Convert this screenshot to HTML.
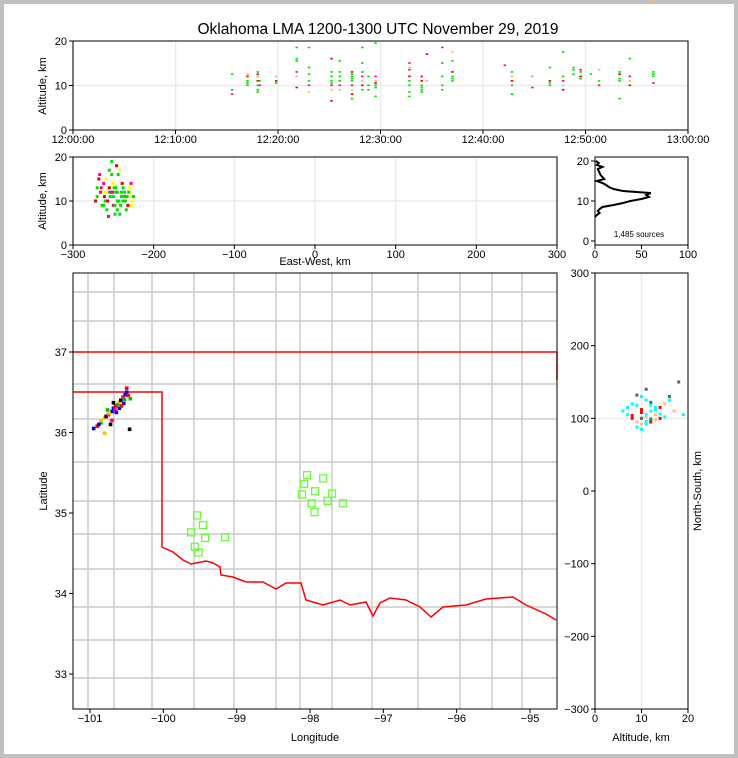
<!DOCTYPE html>
<html><head><meta charset="utf-8">
<style>
html,body{margin:0;padding:0;background:#c0c0c0;}
#wrap{position:absolute;left:4px;top:4px;width:730px;height:750px;background:#fff;}
svg{position:absolute;left:0;top:0;font-family:"Liberation Sans",sans-serif;}
</style></head>
<body>
<div id="wrap"></div>
<svg id="fig" width="738" height="758"></svg>
<script>
// ---- data ----
const timeTicks = ["12:00:00","12:10:00","12:20:00","12:30:00","12:40:00","12:50:00","13:00:00"];
const lmaTimeMin = [15.5,15.5,15.5,17,17,17,17,17,18,18,18,18,18,18,18,18.2,18.2,19.8,19.8,19.8,21.8,21.8,21.8,21.8,21.8,21.8,23,23,23,23,23,23,25.2,25.2,25.2,25.2,25.2,25.2,25.2,25.2,26,26,26,26,26,26,27.2,27.2,27.2,27.2,27.2,27.2,27.2,27.2,27.2,28.2,28.2,28.2,28.2,28.2,28.2,28.2,28.8,28.8,28.8,29.5,29.5,29.5,29.5,29.5,29.5,29.5,32.8,32.8,32.8,32.8,32.8,32.8,32.8,32.8,34,34,34,34,34,34,34,34.5,34.5,36,36,36,36,36,37,37,37,37,37,37,42.1,42.8,42.8,42.8,42.8,42.8,44.8,44.8,44.8,46.5,46.5,46.5,46.5,47.8,47.8,47.8,47.8,47.8,48.8,48.8,48.8,49.5,49.5,49.5,49.5,49.5,50.5,51.3,51.3,51.3,53.3,53.3,53.3,53.3,53.3,54.3,54.3,54.3,54.3,56.6,56.6,56.6,56.6,56.6];
const lmaAlt = [12.5,9,8,12.5,12,11,10.5,10,13,12.5,12,11,10,9,8.5,11,10,12,11,10.5,18.5,16,15.5,13,12,9.5,18.5,14,12.5,11,10,8.5,16,13,12,11,10.5,10,9,6.5,15.5,13,12,11,10,9,13,12.5,12,11.5,11,10,9,8,7,18.5,15,13,12,11,10,9,12,10,9,12,11,10.5,10,9.5,7.5,19.5,15,14,12,11,10,8.5,7.5,13.5,12,11,10,9.5,9,8.5,12,11,17,15,12,10,9,18.5,17.5,13,12,11.5,11,15.5,14.5,12,11,10,8,13,12,9.5,12,11,10.5,10,14,12,11,10,9,17.5,13.5,12.5,14,13.5,13,12,11.5,13,12.5,11,10,13.5,12.5,11.5,11,7,13,12,11,10,16,13,12.5,12,10.5];
const lmaColors = ["#00e000","#00e000","#ff0080","#ffb070","#e00000","#00e000","#00e000"];
const ewTicks = [-300,-200,-100,0,100,200,300];
const ewVals = [-270,-265,-260,-255,-250,-245,-240,-235,-230,-225,-268,-262,-258,-252,-248,-242,-238,-232,-228,-255,-250,-245,-260,-240,-235,-265,-258,-248,-238,-230,-252,-246,-256,-242,-234,-262,-250,-244,-272,-266,-254,-247,-236,-229,-264,-257,-251,-243,-237,-231,-226,-270,-261,-253,-249,-241,-233,-259,-245,-239,-267,-255,-247,-236,-228];
const ewAlt = [11,12,10,13,9,12,11,10,12,11,15,14,8,16,7,17,13,9,14,12,11,10,12,12,11,13,10,9,10,13,19,18,6.5,7,8,9,14,16,10,12,11,13,12,11,9,10,12,10,11,12,10,13,11,12,13,9,11,15,8,14,16,17,12,10,9];
const histAltBins = [6,6.5,7,7.5,8,8.5,9,9.5,10,10.5,11,11.5,12,12.5,13,13.5,14,14.5,15,15.5,16,16.5,17,17.5,18,18.5,19,19.5,20];
const histCounts = [0,2,5,3,5,8,20,30,38,50,58,55,60,30,20,15,12,8,2,10,8,6,5,4,3,8,2,4,1];
const lonTicks = [-101,-100,-99,-98,-97,-96,-95];
const latTicks = [33,34,35,36,37];
const srcLon = [-100.95,-100.9,-100.85,-100.8,-100.78,-100.75,-100.7,-100.68,-100.65,-100.62,-100.6,-100.58,-100.55,-100.52,-100.5,-100.48,-100.45,-100.85,-100.72,-100.66,-100.6,-100.54,-100.5,-100.76,-100.8,-100.46,-100.7,-100.88,-100.64,-100.57,-100.53,-100.74,-100.68];
const srcLat = [36.05,36.08,36.12,36.18,36.2,36.22,36.26,36.3,36.33,36.35,36.38,36.4,36.44,36.47,36.5,36.46,36.42,36.15,36.1,36.28,36.3,36.36,36.55,36.28,35.99,36.04,36.15,36.1,36.25,36.33,36.41,36.24,36.37];
const srcColors = ["#0000ff","#ff0000","#00c000","#ffc000","#000000","#ff0080","#0000ff"];
const staLon = [-99.54,-99.46,-99.62,-99.43,-99.57,-99.52,-99.16,-98.04,-97.82,-98.08,-97.93,-97.7,-98.11,-97.98,-97.76,-97.55,-97.94];
const staLat = [34.97,34.85,34.76,34.69,34.58,34.51,34.7,35.47,35.43,35.36,35.27,35.24,35.23,35.12,35.15,35.12,35.01];
const nsAlt = [6,7,8,9,10,11,12,13,14,15,16,9,10,11,12,13,11,12,10,8,14,17,18,19,12,11,10,13,9,15,7,16,10,11,12,13,14,9,8,10,12,11];
const nsVals = [110,105,100,95,100,105,110,115,100,120,130,88,130,125,95,105,140,100,85,120,115,110,150,105,118,92,112,98,132,102,115,125,108,102,98,112,106,118,104,92,122,96];
const nsTicks = [-300,-200,-100,0,100,200,300];
// ---- helpers ----
const svg = document.getElementById('fig');
const NS = 'http://www.w3.org/2000/svg';
function el(tag, attrs, parent){const e=document.createElementNS(NS,tag);for(const k in attrs)e.setAttribute(k,attrs[k]);(parent||svg).appendChild(e);return e;}
function lin(d0,d1,r0,r1){return v=>r0+(v-d0)/(d1-d0)*(r1-r0);}
function txt(x,y,s,anchor,size,parent,extra){const t=el('text',Object.assign({x:x,y:y,'text-anchor':anchor||'middle','font-size':size||11,fill:'#000'},extra||{}),parent);t.textContent=s;return t;}

const title = txt(378,34,"Oklahoma LMA 1200-1300 UTC November 29, 2019","middle",15.5);



// ---- top time panel ----
const tx = lin(0,60,73,688), ty = lin(0,20,130,41);
const gTop = el('g',{});


timeTicks.forEach((s,i)=>{const x=tx(i*10);el('line',{x1:x,x2:x,y1:41,y2:130,stroke:'#ebebeb','stroke-width':1.5},gTop);el('line',{x1:x,x2:x,y1:130,y2:134,stroke:'#000'},gTop);const t=txt(x,143,s,'middle',11,gTop);});
el('line',{x1:73,x2:688,y1:ty(10),y2:ty(10),stroke:'#ebebeb','stroke-width':1.5},gTop);
[0,10,20].forEach(v=>{el('line',{x1:69,x2:73,y1:ty(v),y2:ty(v),stroke:'#000'},gTop);txt(67,ty(v)+4,String(v),'end',11,gTop);});
lmaTimeMin.forEach((t,i)=>{const r=el('rect',{x:tx(t)-1,y:ty(lmaAlt[i])-1,width:2.5,height:1.6,fill:lmaColors[i%lmaColors.length]},gTop);});
el('rect',{x:73,y:41,width:615,height:89,fill:'none',stroke:'#000'},gTop);
const yl1=txt(0,0,"Altitude, km","middle",11,gTop,{transform:'translate(46,86) rotate(-90)'});

// ---- middle EW panel ----
const ex = lin(-300,300,73,557), ey = lin(0,20,245,157);
const gEW = el('g',{});


ewTicks.forEach(v=>{const x=ex(v);el('line',{x1:x,x2:x,y1:157,y2:245,stroke:'#ebebeb','stroke-width':1.5},gEW);el('line',{x1:x,x2:x,y1:245,y2:249,stroke:'#000'},gEW);txt(x,258,v<0?'\u2212'+(-v):String(v),'middle',11,gEW);});
el('line',{x1:73,x2:557,y1:ey(10),y2:ey(10),stroke:'#ebebeb','stroke-width':1.5},gEW);
[0,10,20].forEach(v=>{el('line',{x1:69,x2:73,y1:ey(v),y2:ey(v),stroke:'#000'},gEW);txt(67,ey(v)+4,String(v),'end',11,gEW);});
ewVals.forEach((v,i)=>{const r=el('rect',{x:ex(v)-1.5,y:ey(ewAlt[i])-1.5,width:3,height:3,fill:['#00e000','#ffff00','#00e000','#e00000','#ff0080','#00e000','#00e000'][i%7]},gEW);});
el('rect',{x:73,y:157,width:484,height:88,fill:'none',stroke:'#000'},gEW);
txt(315,265,"East-West, km","middle",11,gEW);
txt(0,0,"Altitude, km","middle",11,gEW,{transform:'translate(46,201) rotate(-90)'});

// ---- histogram ----
const hx = lin(0,100,595,688), hy = lin(0,20,241,161);
const gH = el('g',{});


[0,50,100].forEach(v=>{el('line',{x1:hx(v),x2:hx(v),y1:245,y2:249,stroke:'#000'},gH);txt(hx(v),258,String(v),'middle',11,gH);});
[0,10,20].forEach(v=>{el('line',{x1:591,x2:595,y1:hy(v),y2:hy(v),stroke:'#000'},gH);txt(589,hy(v)+4,String(v),'end',11,gH);});
const hp = el('polyline',{points:histAltBins.map((a,i)=>hx(histCounts[i])+','+hy(a)).join(' '),fill:'none',stroke:'#000','stroke-width':2},gH);

el('rect',{x:595,y:157,width:93,height:88,fill:'none',stroke:'#000'},gH);
txt(639,237,"1,485 sources","middle",8,gH);

// ---- map ----
const mx = lin(-101,-95,90,530), my = lin(37,33,352,674);
const gM = el('g',{});


const cg = el('g',{stroke:'#cccccc','stroke-width':1.5,fill:'none'},gM);


const vx=[88,114,152,194,234,276,300,332,372,418,460,492,522];
const hyv=[292,321,384,419,462,501,534,569,607,640,678];
vx.forEach(x=>el('line',{x1:x,x2:x,y1:273,y2:709},cg));
hyv.forEach(y=>el('line',{x1:73,x2:557,y1:y,y2:y},cg));
el('line',{x1:73,x2:557,y1:352,y2:352,stroke:'#ff0000','stroke-width':1.5},gM);
const okb = el('polyline',{points:"73,392 162,392 162,547 173,552 183,560 191,564 206,561 213,563 220,567 221,575 233,577 246,582 263,582 276,589 286,583 301,583 306,600 323,605 340,600 350,605 366,602 373,616 380,603 390,598 406,600 420,607 431,617 443,607 466,605 486,599 513,597 526,605 546,614 556,620",fill:'none',stroke:'#ff0000','stroke-width':1.5},gM);

el('line',{x1:557,x2:557,y1:352,y2:380,stroke:'#ff0000','stroke-width':1.5},gM);
srcLon.forEach((v,i)=>{const r=el('rect',{x:mx(v)-1.8,y:my(srcLat[i])-1.8,width:3.6,height:3.6,fill:srcColors[i%srcColors.length]},gM);});
staLon.forEach((v,i)=>{const r=el('rect',{x:mx(v)-3.5,y:my(staLat[i])-3.5,width:7,height:7,fill:'none',stroke:'#66ff33','stroke-width':1.3},gM);});
lonTicks.forEach(v=>{el('line',{x1:mx(v),x2:mx(v),y1:709,y2:713,stroke:'#000'},gM);txt(mx(v),722,'\u2212'+(-v),'middle',11,gM);});
latTicks.forEach(v=>{el('line',{x1:69,x2:73,y1:my(v),y2:my(v),stroke:'#000'},gM);txt(67,my(v)+4,String(v),'end',11,gM);});
el('rect',{x:73,y:273,width:484,height:436,fill:'none',stroke:'#000'},gM);
txt(315,741,"Longitude","middle",11,gM);
txt(0,0,"Latitude","middle",11,gM,{transform:'translate(47,491) rotate(-90)'});

// ---- NS panel ----
const nx = lin(0,20,595,688), nyy = lin(-300,300,709,273);
const gN = el('g',{});


el('line',{x1:nx(10),x2:nx(10),y1:273,y2:709,stroke:'#ebebeb','stroke-width':1.5},gN);
nsTicks.forEach(v=>{const y=nyy(v);el('line',{x1:591,x2:595,y1:y,y2:y,stroke:'#000'},gN);txt(589,y+4,v<0?'\u2212'+(-v):String(v),'end',11,gN);});
el('line',{x1:595,x2:688,y1:nyy(100),y2:nyy(100),stroke:'#ebebeb','stroke-width':1.5},gN);
nsAlt.forEach((a,i)=>{const r=el('rect',{x:nx(a)-1.5,y:nyy(nsVals[i])-1.5,width:3,height:3,fill:['#00ffff','#00ffff','#ff0000','#ffc080','#407070','#00ffff'][i%6]},gN);});
[0,10,20].forEach(v=>{el('line',{x1:nx(v),x2:nx(v),y1:709,y2:713,stroke:'#000'},gN);txt(nx(v),722,String(v),'middle',11,gN);});
el('rect',{x:595,y:273,width:93,height:436,fill:'none',stroke:'#000'},gN);
txt(641,741,"Altitude, km","middle",11,gN);
txt(0,0,"North-South, km","middle",11,gN,{transform:'translate(701,491) rotate(-90)'});
</script>
</body></html>
